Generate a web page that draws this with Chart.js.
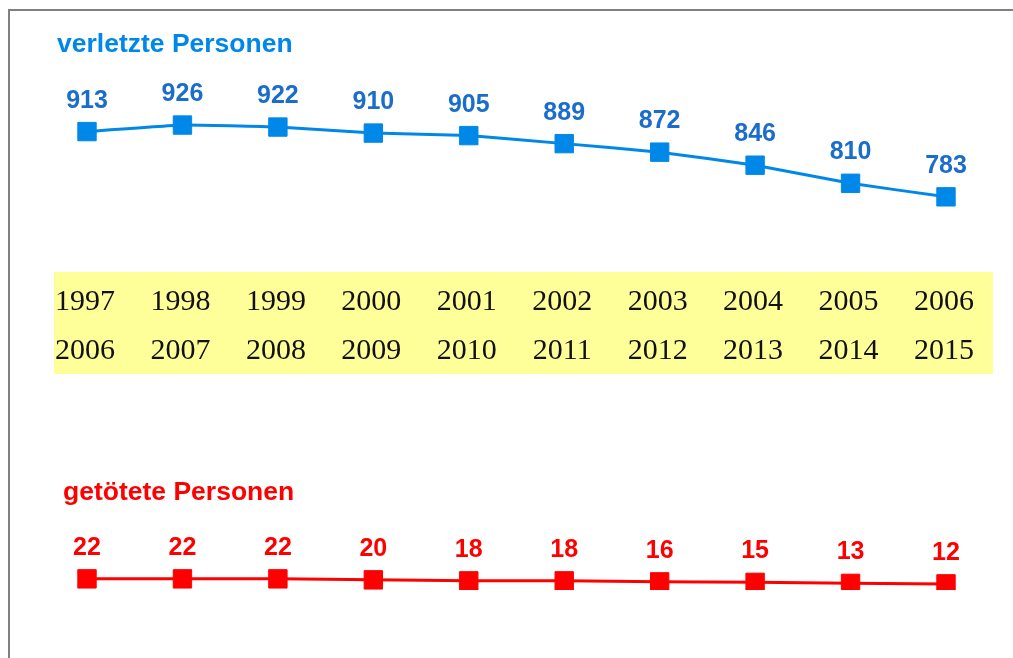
<!DOCTYPE html>
<html>
<head>
<meta charset="utf-8">
<script src="https://cdn.jsdelivr.net/npm/chart.js@4"></script>
<style>
html,body{margin:0;padding:0;background:#fff;overflow:hidden;}
canvas{display:block;}
</style>
</head>
<body>
<canvas id="c" width="1013" height="658"></canvas>
<script>
// ---- data ----
const startYears = ["1997","1998","1999","2000","2001","2002","2003","2004","2005","2006"];
const endYears   = ["2006","2007","2008","2009","2010","2011","2012","2013","2014","2015"];
const categories = startYears.map((s, i) => s + "-" + endYears[i]);
const injured = [913, 926, 922, 910, 905, 889, 872, 846, 810, 783];
const killed  = [22, 22, 22, 20, 18, 18, 16, 15, 13, 12];
const titleInjured = "verletzte Personen";
const titleKilled  = "getötete Personen";

const BLUE = "#0088e8", BLUE_LABEL = "#1b6dcc", RED = "#ff0000";

const decor = {
  id: "decor",
  beforeDraw(chart) {
    const ctx = chart.ctx;
    ctx.save();
    // frame
    ctx.fillStyle = "#808080";
    ctx.fillRect(8, 9, 1013, 2);
    ctx.fillRect(8, 9, 2, 658);
    // yellow band
    ctx.fillStyle = "#ffff99";
    ctx.fillRect(54, 272, 939, 102);
    // year labels
    const xs = chart.scales.x;
    ctx.fillStyle = "#111";
    ctx.font = "30px 'Liberation Serif', 'Times New Roman', serif";
    ctx.textAlign = "center";
    ctx.textBaseline = "alphabetic";
    startYears.forEach((y, i) => {
      const x = xs.getPixelForValue(i) - 2;
      ctx.fillText(y, x, 310);
      ctx.fillText(endYears[i], x, 359);
    });
    // titles
    ctx.textAlign = "left";
    ctx.font = "bold 26.5px 'Liberation Sans', Arial, sans-serif";
    ctx.fillStyle = BLUE;
    ctx.fillText(titleInjured, 57, 52);
    ctx.fillStyle = RED;
    ctx.fillText(titleKilled, 63, 500);
    ctx.restore();
  },
  afterDatasetsDraw(chart) {
    const ctx = chart.ctx;
    ctx.save();
    ctx.font = "bold 25px 'Liberation Sans', Arial, sans-serif";
    ctx.textAlign = "center";
    ctx.textBaseline = "alphabetic";
    chart.data.datasets.forEach((ds, di) => {
      const meta = chart.getDatasetMeta(di);
      ctx.fillStyle = ds.labelColor;
      meta.data.forEach((pt, i) => {
        ctx.fillText(String(ds.data[i]), pt.x, pt.y - 24);
      });
    });
    ctx.restore();
  }
};

new Chart(document.getElementById("c"), {
  type: "line",
  data: {
    labels: categories,
    datasets: [
      { data: injured, borderColor: BLUE, backgroundColor: BLUE, labelColor: BLUE_LABEL,
        borderWidth: 3, pointStyle: "rect", pointRadius: 13, pointHoverRadius: 13,
        pointBorderWidth: 1, tension: 0.1, fill: false },
      { data: killed, borderColor: RED, backgroundColor: RED, labelColor: RED,
        borderWidth: 3, pointStyle: "rect", pointRadius: 13, pointHoverRadius: 13,
        pointBorderWidth: 1, tension: 0, fill: false }
    ]
  },
  options: {
    responsive: false,
    animation: false,
    events: [],
    layout: { padding: { left: 87, right: 67, top: 87.9, bottom: 68.1 } },
    plugins: { legend: { display: false }, tooltip: { enabled: false } },
    scales: {
      x: { display: false, offset: false },
      y: { display: false, min: 0, max: 1000 }
    }
  },
  plugins: [decor]
});
</script>
</body>
</html>
